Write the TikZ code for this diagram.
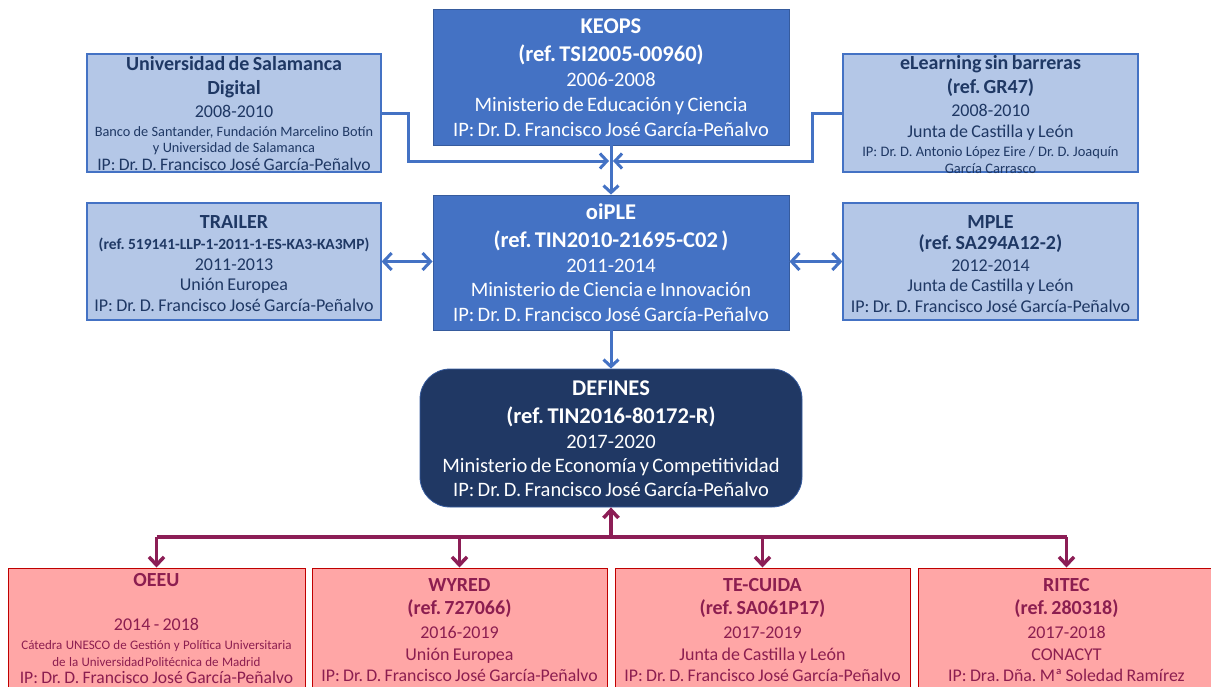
\documentclass[tikz,border=0pt]{standalone}
\usepackage{fontspec}
\setmainfont{Carlito}
\usetikzlibrary{arrows.meta,calc}
\definecolor{midblue}{HTML}{4472C4}
\definecolor{lightblue}{HTML}{B4C7E7}
\definecolor{navy}{HTML}{203864}
\definecolor{navytext}{HTML}{1F3864}
\definecolor{pinkfill}{HTML}{FFA6A6}
\definecolor{redborder}{HTML}{C00000}
\definecolor{berry}{HTML}{8C1E56}
\definecolor{berrytext}{HTML}{8C1E50}
\newcommand\fl[3]{\fontsize{#1}{#2}\selectfont #3}
\newcommand\ft[2]{\fontsize{#1}{#1}\selectfont\rule{0pt}{#1pt}\textbf{#2}}
\tikzset{
  darkbox/.style={rectangle, fill=midblue, draw=midblue!80!black, line width=0.8pt, inner sep=0pt},
  lbox/.style={rectangle, fill=lightblue, draw=midblue, line width=1.2pt, inner sep=0pt},
  pbox/.style={rectangle, fill=pinkfill, draw=redborder, line width=1pt, inner sep=0pt},
  txt/.style={anchor=north, inner sep=0pt, align=center, text width=#1},
  wtxt/.style={txt=#1, text=white},
  ntxt/.style={txt=#1, text=navytext},
  btxt/.style={txt=#1, text=berrytext},
  bluearrow/.style={draw=midblue, line width=3pt, -{Straight Barb[length=7pt,width=15pt]}},
  bluedarrow/.style={draw=midblue, line width=3pt, {Straight Barb[length=8pt,width=17pt]}-{Straight Barb[length=8pt,width=17pt]}},
  berryline/.style={draw=berry, line width=3.5pt},
  berryarrow/.style={draw=berry, line width=3.5pt, -{Straight Barb[length=8pt,width=15pt]}},
}
\begin{document}
\frenchspacing
\begin{tikzpicture}[x=1pt,y=-1pt]
\useasboundingbox (0,0) rectangle (1211,686);
\clip (0,0) rectangle (1211,686);
% boxes
\node[darkbox, minimum width=356pt, minimum height=136pt] (keops) at (611,77) {};
\node[darkbox, minimum width=356pt, minimum height=135pt] (oiple) at (611,262.5) {};
\node[rectangle, rounded corners=30pt, fill=navy, draw=midblue!60!navy, line width=0.8pt, minimum width=382pt, minimum height=138pt] (defines) at (611,438) {};
\node[lbox, minimum width=294pt, minimum height=118pt] (usal) at (234,113) {};
\node[lbox, minimum width=295pt, minimum height=118pt] (elearn) at (990.5,113) {};
\node[lbox, minimum width=294pt, minimum height=117pt] (trailer) at (234,261.5) {};
\node[lbox, minimum width=295pt, minimum height=117pt] (mple) at (990.5,261.5) {};
\node[pbox, minimum width=297pt, minimum height=132pt] (oeeu) at (156.5,634) {};
\node[pbox, minimum width=295pt, minimum height=132pt] (wyred) at (459.5,634) {};
\node[pbox, minimum width=295pt, minimum height=132pt] (tecuida) at (762.5,634) {};
\node[pbox, minimum width=297pt, minimum height=132pt] (ritec) at (1066.5,634) {};
% texts
\node[wtxt=356pt] (keopsT) at (611,11) {\ft{22.5}{KEOPS}\\
 \fl{22.5}{28}{\textbf{(ref. TSI2005-00960)}}\\
 \fl{20.5}{25}{2006-2008}\\
 \fl{20.5}{25}{Ministerio de Educación y Ciencia}\\
 \fl{20.5}{25}{IP: Dr. D. Francisco José García-Peñalvo\par}};
\node[wtxt=356pt] (oipleT) at (611,197) {\ft{22.5}{oiPLE}\\
 \fl{22.5}{28}{\textbf{(ref. TIN2010-21695-C02 )}}\\
 \fl{20.5}{25}{2011-2014}\\
 \fl{20.5}{24}{Ministerio de Ciencia e Innovación}\\
 \fl{20.5}{25}{IP: Dr. D. Francisco José García-Peñalvo\par}};
\node[wtxt=382pt] (definesT) at (611,373) {\ft{22.5}{DEFINES}\\
 \fl{22.5}{28}{\textbf{(ref. TIN2016-80172-R)}}\\
 \fl{20.5}{25}{2017-2020}\\
 \fl{20.5}{24}{Ministerio de Economía y Competitividad}\\
 \fl{20.5}{24}{IP: Dr. D. Francisco José García-Peñalvo\par}};
\node[ntxt=294pt] (usalT) at (234,50) {\ft{20}{Universidad de Salamanca}\\
 \fl{20}{24}{\textbf{Digital}}\\
 \fl{18}{23}{2008-2010}\\
 \fl{14.3}{19}{Banco de Santander, Fundación Marcelino Botín}\\
 \fl{14.3}{16.5}{y Universidad de Salamanca}\\
 \fl{17.6}{17.5}{IP: Dr. D. Francisco José García-Peñalvo\par}};
\node[ntxt=295pt] (elearnT) at (990.5,49) {\ft{20}{eLearning sin barreras}\\
 \fl{20}{24}{\textbf{(ref. GR47)}}\\
 \fl{18}{23}{2008-2010}\\
 \fl{18}{21}{Junta de Castilla y León}\\
 \fl{14.5}{19}{IP: Dr. D. Antonio López Eire / Dr. D. Joaquín}\\
 \fl{14.5}{17}{García Carrasco\par}};
\node[ntxt=294pt] (trailerT) at (234,208) {\ft{20}{TRAILER}\\
 \fl{15.5}{21}{\textbf{(ref. 519141-LLP-1-2011-1-ES-KA3-KA3MP)}}\\
 \fl{18}{21}{2011-2013}\\
 \fl{18}{20}{Unión Europea}\\
 \fl{18}{21}{IP: Dr. D. Francisco José García-Peñalvo\par}};
\node[ntxt=295pt] (mpleT) at (990.5,208) {\ft{20}{MPLE}\\
 \fl{20}{21}{\textbf{(ref. SA294A12-2)}}\\
 \fl{18}{22}{2012-2014}\\
 \fl{18}{20}{Junta de Castilla y León}\\
 \fl{18}{21}{IP: Dr. D. Francisco José García-Peñalvo\par}};
\node[btxt=297pt] (oeeuT) at (156.5,566) {\ft{20}{OEEU}\\
 \fl{18}{44}{2014 - 2018}\\
 \fl{13}{19}{Cátedra UNESCO de Gestión y Política Universitaria}\\
 \fl{13}{17}{de la Universidad\hspace{1pt}Politécnica de Madrid}\\
 \fl{17.6}{17.5}{IP: Dr. D. Francisco José García-Peñalvo\par}};
\node[btxt=295pt] (wyredT) at (459.5,571) {\ft{20}{WYRED}\\
 \fl{20}{23}{\textbf{(ref. 727066)}}\\
 \fl{18}{24}{2016-2019}\\
 \fl{18}{22}{Unión Europea}\\
 \fl{17.8}{21}{IP: Dr. D. Francisco José García-Peñalvo\par}};
\node[btxt=295pt] (tecuidaT) at (762.5,571) {\ft{20}{TE-CUIDA}\\
 \fl{20}{23}{\textbf{(ref. SA061P17)}}\\
 \fl{18}{24}{2017-2019}\\
 \fl{18}{22}{Junta de Castilla y León}\\
 \fl{17.8}{21}{IP: Dr. D. Francisco José García-Peñalvo\par}};
\node[btxt=297pt] (ritecT) at (1066.5,571) {\ft{20}{RITEC}\\
 \fl{20}{23}{\textbf{(ref. 280318)}}\\
 \fl{18}{24}{2017-2018}\\
 \fl{18}{22}{CONACYT}\\
 \fl{17.8}{21}{IP: Dra. Dña. Mª Soledad Ramírez\par}};
% connectors top
\coordinate (jn) at (611,161);
\draw[bluearrow] (keops.south) -- (oiple.north);
\draw[bluearrow, shorten >=2pt] (usal.east) -- ++(27,0) |- (jn);
\draw[bluearrow, shorten >=2pt] (elearn.west) -- ++(-30,0) |- (jn);
\draw[bluedarrow] (trailer.east) -- (trailer.east -| oiple.west);
\draw[bluedarrow] (mple.west) -- (mple.west -| oiple.east);
\draw[bluearrow] (oiple.south) -- (defines.north);
% connectors bottom
\coordinate (bus) at (611,537);
\draw[berryline] (oeeu.north |- bus) -- (ritec.north |- bus);
\draw[berryarrow] (bus) -- (defines.south);
\draw[berryarrow] (oeeu.north |- bus) -- (oeeu.north);
\draw[berryarrow] (wyred.north |- bus) -- (wyred.north);
\draw[berryarrow] (tecuida.north |- bus) -- (tecuida.north);
\draw[berryarrow] (ritec.north |- bus) -- (ritec.north);
\end{tikzpicture}
\end{document}
